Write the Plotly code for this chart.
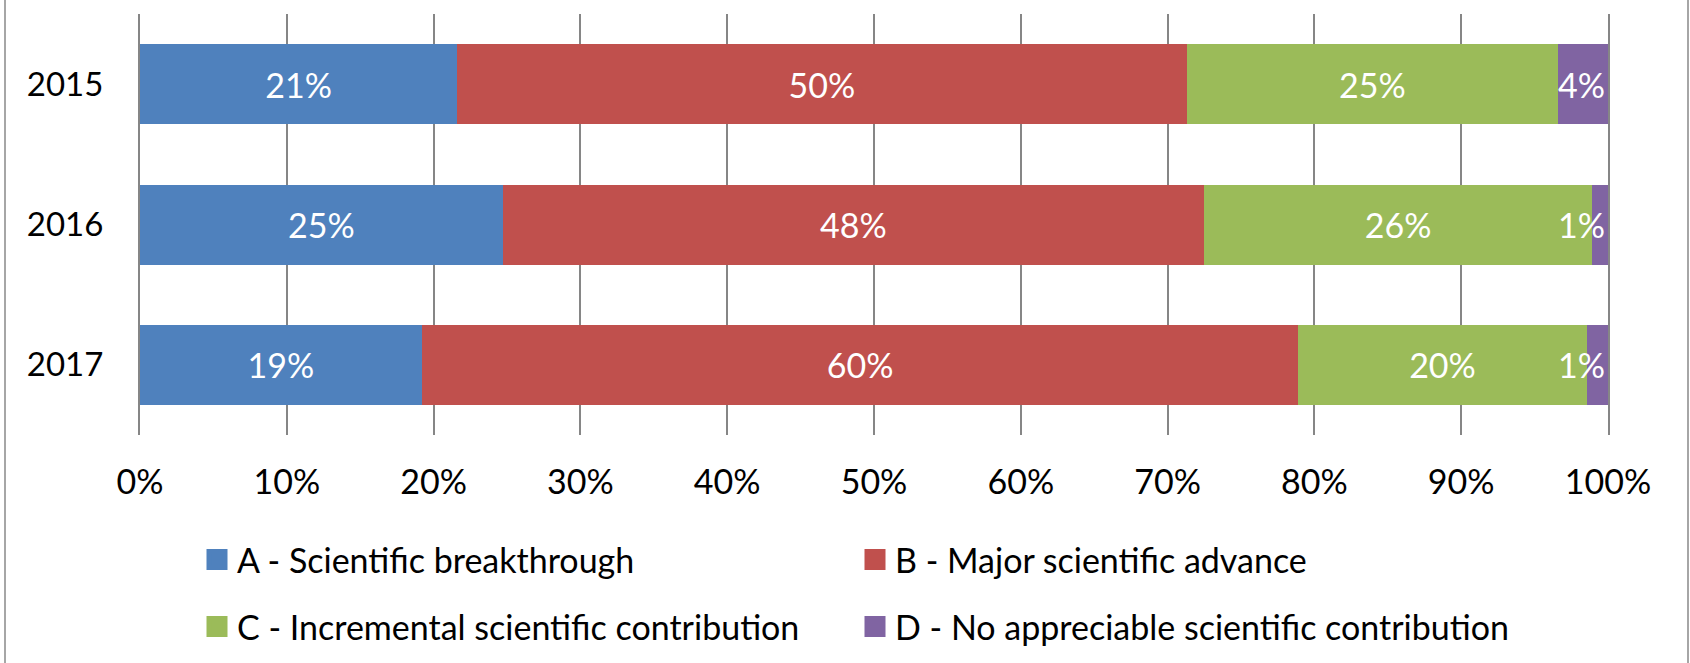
import plotly.graph_objects as go

years = ["2015", "2016", "2017"]
series_names = [
    "A - Scientific breakthrough",
    "B - Major scientific advance",
    "C - Incremental scientific contribution",
    "D - No appreciable scientific contribution",
]
a_values = [21.6, 24.7, 19.2]
b_values = [49.7, 47.8, 59.7]
c_values = [25.3, 26.4, 19.65]
d_values = [3.4, 1.1, 1.45]
a_labels = ["21%", "25%", "19%"]
b_labels = ["50%", "48%", "60%"]
c_labels = ["25%", "26%", "20%"]
d_labels = ["4%", "1%", "1%"]
x_ticks = [0, 10, 20, 30, 40, 50, 60, 70, 80, 90, 100]
x_tick_labels = ["0%", "10%", "20%", "30%", "40%", "50%", "60%", "70%", "80%", "90%", "100%"]

colors = ["#4F81BD", "#C0504D", "#9BBB59", "#8064A2"]
FONT = "Lato"
FS = 34

fig = go.Figure()
all_values = [a_values, b_values, c_values, d_values]
all_labels = [a_labels, b_labels, c_labels, d_labels]
for i, (vals, labs) in enumerate(zip(all_values, all_labels)):
    fig.add_trace(go.Bar(
        y=years, x=vals, orientation="h", name=series_names[i],
        text=labs, textposition="inside",
        insidetextanchor="end" if i == 3 else "middle",
        textangle=0, constraintext="none",
        textfont=dict(color="white", size=FS, family=FONT),
        marker=dict(color=colors[i], line=dict(width=0)),
        showlegend=False, cliponaxis=False,
    ))

legend_assign = ["legend", "legend", "legend2", "legend2"]
for i in range(4):
    fig.add_trace(go.Scatter(
        x=[None], y=[None], mode="markers", name=series_names[i],
        marker=dict(symbol="square", size=16, color=colors[i],
                    line=dict(width=5, color=colors[i])),
        legend=legend_assign[i], showlegend=True,
    ))

L, R, T, B = 140, 82, 14, 228
PW = 1690 - L - R
PH = 663 - T - B

def px_x(p):
    return (p - L) / PW

def px_y(p):
    return (663 - B - p) / PH

border = "#A6A6A6"
shapes = [
    dict(type="line", xref="paper", yref="paper", x0=px_x(5), x1=px_x(5),
         y0=px_y(-5), y1=px_y(670), line=dict(color=border, width=2)),
    dict(type="line", xref="paper", yref="paper", x0=px_x(1688), x1=px_x(1688),
         y0=px_y(-5), y1=px_y(670), line=dict(color=border, width=2)),
]

leg_common = dict(
    orientation="h", xref="container", yref="container",
    xanchor="left", yanchor="middle", traceorder="normal",
    font=dict(family=FONT, size=FS, color="#000000"),
    entrywidth=613, entrywidthmode="pixels",
    bgcolor="rgba(0,0,0,0)", borderwidth=0,
)

fig.update_layout(
    width=1690, height=663,
    margin=dict(l=L, r=R, t=T, b=B, pad=0),
    barmode="stack", bargap=0.43,
    paper_bgcolor="white", plot_bgcolor="white",
    font=dict(family=FONT, size=FS, color="#000000"),
    xaxis=dict(
        range=[0, 100.0005], tickvals=x_ticks, ticktext=x_tick_labels,
        showgrid=True, gridcolor="#868686", gridwidth=2,
        zeroline=False, showline=False, ticks="",
        ticklabelstandoff=24,
        tickfont=dict(family=FONT, size=FS, color="#000000"),
    ),
    yaxis=dict(
        categoryorder="array", categoryarray=years,
        range=[2.5, -0.5], showgrid=False, zeroline=False,
        showline=True, mirror=True, linecolor="#868686", linewidth=2,
        ticks="", ticklabelstandoff=28,
        tickfont=dict(family=FONT, size=33, color="#000000"),
    ),
    legend=dict(x=197 / 1690, y=1 - 560 / 663, **leg_common),
    legend2=dict(x=197 / 1690, y=1 - 627 / 663, **leg_common),
    shapes=shapes,
)

fig.write_html(
    "out.html",
    config={"displayModeBar": False},
    post_script="document.body.style.margin='0px';document.body.style.overflow='hidden';",
)
